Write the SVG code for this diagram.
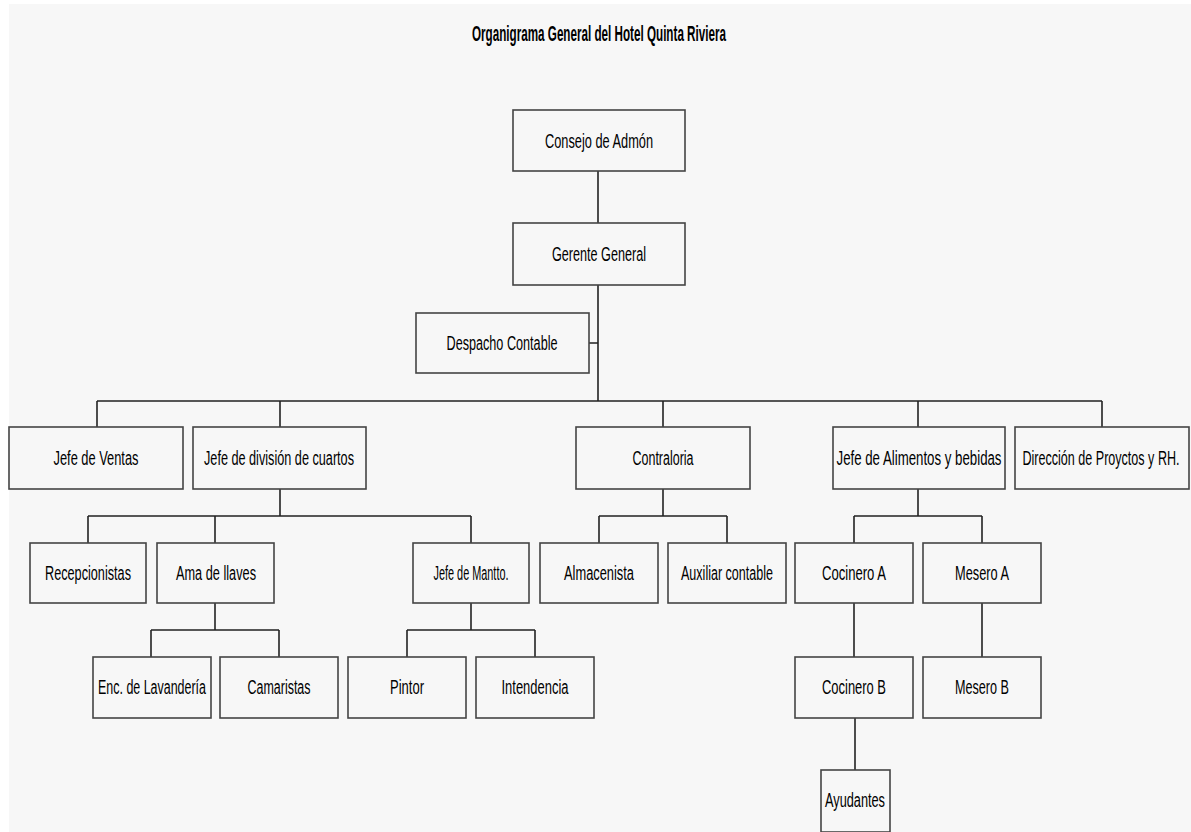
<svg xmlns="http://www.w3.org/2000/svg" width="1191" height="832" viewBox="0 0 1191 832">
<style>
.bg{fill:#f7f7f7}
.box{fill:#f7f7f7;stroke:#444;stroke-width:1.6}
.t{font-family:"Liberation Sans",Arial,sans-serif;font-size:20px;fill:#000;text-anchor:middle}
.title{font-family:"Liberation Sans",Arial,sans-serif;font-size:22px;font-weight:bold;fill:#000;text-anchor:middle}
.c{fill:none;stroke:#222;stroke-width:1.6}
</style>
<rect x="0" y="0" width="1191" height="832" fill="#ffffff"/>
<rect class="bg" x="9" y="4" width="1182" height="828"/>
<text class="title" x="599" y="41" textLength="254" lengthAdjust="spacingAndGlyphs">Organigrama General del Hotel Quinta Riviera</text>
<g id="connectors">
<path class="c" d="M598 171V223M598 285V401M589 343H598"/>
<path class="c" d="M97 401H1102M97 401V427M280 401V427M663 401V427M918 401V427M1102 401V427"/>
<path class="c" d="M280 489V516M88 516H471M88 516V543M215 516V543M471 516V543"/>
<path class="c" d="M663 489V516M599 516H727M599 516V543M727 516V543"/>
<path class="c" d="M918 489V516M854 516H982M854 516V543M982 516V543"/>
<path class="c" d="M215 603V630M151 630H279M151 630V657M279 630V657"/>
<path class="c" d="M471 603V630M407 630H535M407 630V657M535 630V657"/>
<path class="c" d="M854 603V657M982 603V657M855 718V770"/>
</g>
<g id="consejo"><rect class="box" x="513" y="110" width="172" height="61"/><text class="t" x="599" y="148" textLength="108" lengthAdjust="spacingAndGlyphs">Consejo de Admón</text></g>
<g id="gerente"><rect class="box" x="513" y="223" width="172" height="62"/><text class="t" x="599" y="261" textLength="94" lengthAdjust="spacingAndGlyphs">Gerente General</text></g>
<g id="despacho"><rect class="box" x="416" y="313" width="173" height="60"/><text class="t" x="502" y="350" textLength="111" lengthAdjust="spacingAndGlyphs">Despacho Contable</text></g>
<g id="ventas"><rect class="box" x="9" y="427" width="174" height="62"/><text class="t" x="96" y="465" textLength="85" lengthAdjust="spacingAndGlyphs">Jefe de Ventas</text></g>
<g id="cuartos"><rect class="box" x="193" y="427" width="173" height="62"/><text class="t" x="279" y="465" textLength="150" lengthAdjust="spacingAndGlyphs">Jefe de división de cuartos</text></g>
<g id="contraloria"><rect class="box" x="576" y="427" width="174" height="62"/><text class="t" x="663" y="465" textLength="61" lengthAdjust="spacingAndGlyphs">Contraloria</text></g>
<g id="alimentos"><rect class="box" x="833" y="427" width="172" height="62"/><text class="t" x="919" y="465" textLength="165" lengthAdjust="spacingAndGlyphs">Jefe de Alimentos y bebidas</text></g>
<g id="direccion"><rect class="box" x="1015" y="427" width="174" height="62"/><text class="t" x="1101" y="465" textLength="157" lengthAdjust="spacingAndGlyphs">Dirección de Proyctos y RH.</text></g>
<g id="recepcionistas"><rect class="box" x="30" y="543" width="116" height="60"/><text class="t" x="88" y="580" textLength="86" lengthAdjust="spacingAndGlyphs">Recepcionistas</text></g>
<g id="ama"><rect class="box" x="157" y="543" width="117" height="60"/><text class="t" x="216" y="580" textLength="80" lengthAdjust="spacingAndGlyphs">Ama de llaves</text></g>
<g id="mantto"><rect class="box" x="413" y="543" width="116" height="60"/><text class="t" x="471" y="580" textLength="75" lengthAdjust="spacingAndGlyphs">Jefe de Mantto.</text></g>
<g id="almacenista"><rect class="box" x="540" y="543" width="118" height="60"/><text class="t" x="599" y="580" textLength="70" lengthAdjust="spacingAndGlyphs">Almacenista</text></g>
<g id="auxiliar"><rect class="box" x="668" y="543" width="118" height="60"/><text class="t" x="727" y="580" textLength="92" lengthAdjust="spacingAndGlyphs">Auxiliar contable</text></g>
<g id="cocineroA"><rect class="box" x="795" y="543" width="118" height="60"/><text class="t" x="854" y="580" textLength="64" lengthAdjust="spacingAndGlyphs">Cocinero A</text></g>
<g id="meseroA"><rect class="box" x="923" y="543" width="118" height="60"/><text class="t" x="982" y="580" textLength="54" lengthAdjust="spacingAndGlyphs">Mesero A</text></g>
<g id="lavanderia"><rect class="box" x="93" y="657" width="118" height="61"/><text class="t" x="152" y="694" textLength="108" lengthAdjust="spacingAndGlyphs">Enc. de Lavandería</text></g>
<g id="camaristas"><rect class="box" x="220" y="657" width="118" height="61"/><text class="t" x="279" y="694" textLength="63" lengthAdjust="spacingAndGlyphs">Camaristas</text></g>
<g id="pintor"><rect class="box" x="348" y="657" width="118" height="61"/><text class="t" x="407" y="694" textLength="34" lengthAdjust="spacingAndGlyphs">Pintor</text></g>
<g id="intendencia"><rect class="box" x="476" y="657" width="118" height="61"/><text class="t" x="535" y="694" textLength="67" lengthAdjust="spacingAndGlyphs">Intendencia</text></g>
<g id="cocineroB"><rect class="box" x="795" y="657" width="118" height="61"/><text class="t" x="854" y="694" textLength="64" lengthAdjust="spacingAndGlyphs">Cocinero B</text></g>
<g id="meseroB"><rect class="box" x="923" y="657" width="118" height="61"/><text class="t" x="982" y="694" textLength="54" lengthAdjust="spacingAndGlyphs">Mesero B</text></g>
<g id="ayudantes"><rect class="box" x="821" y="770" width="69" height="62"/><text class="t" x="855" y="807" textLength="60" lengthAdjust="spacingAndGlyphs">Ayudantes</text></g>
</svg>
